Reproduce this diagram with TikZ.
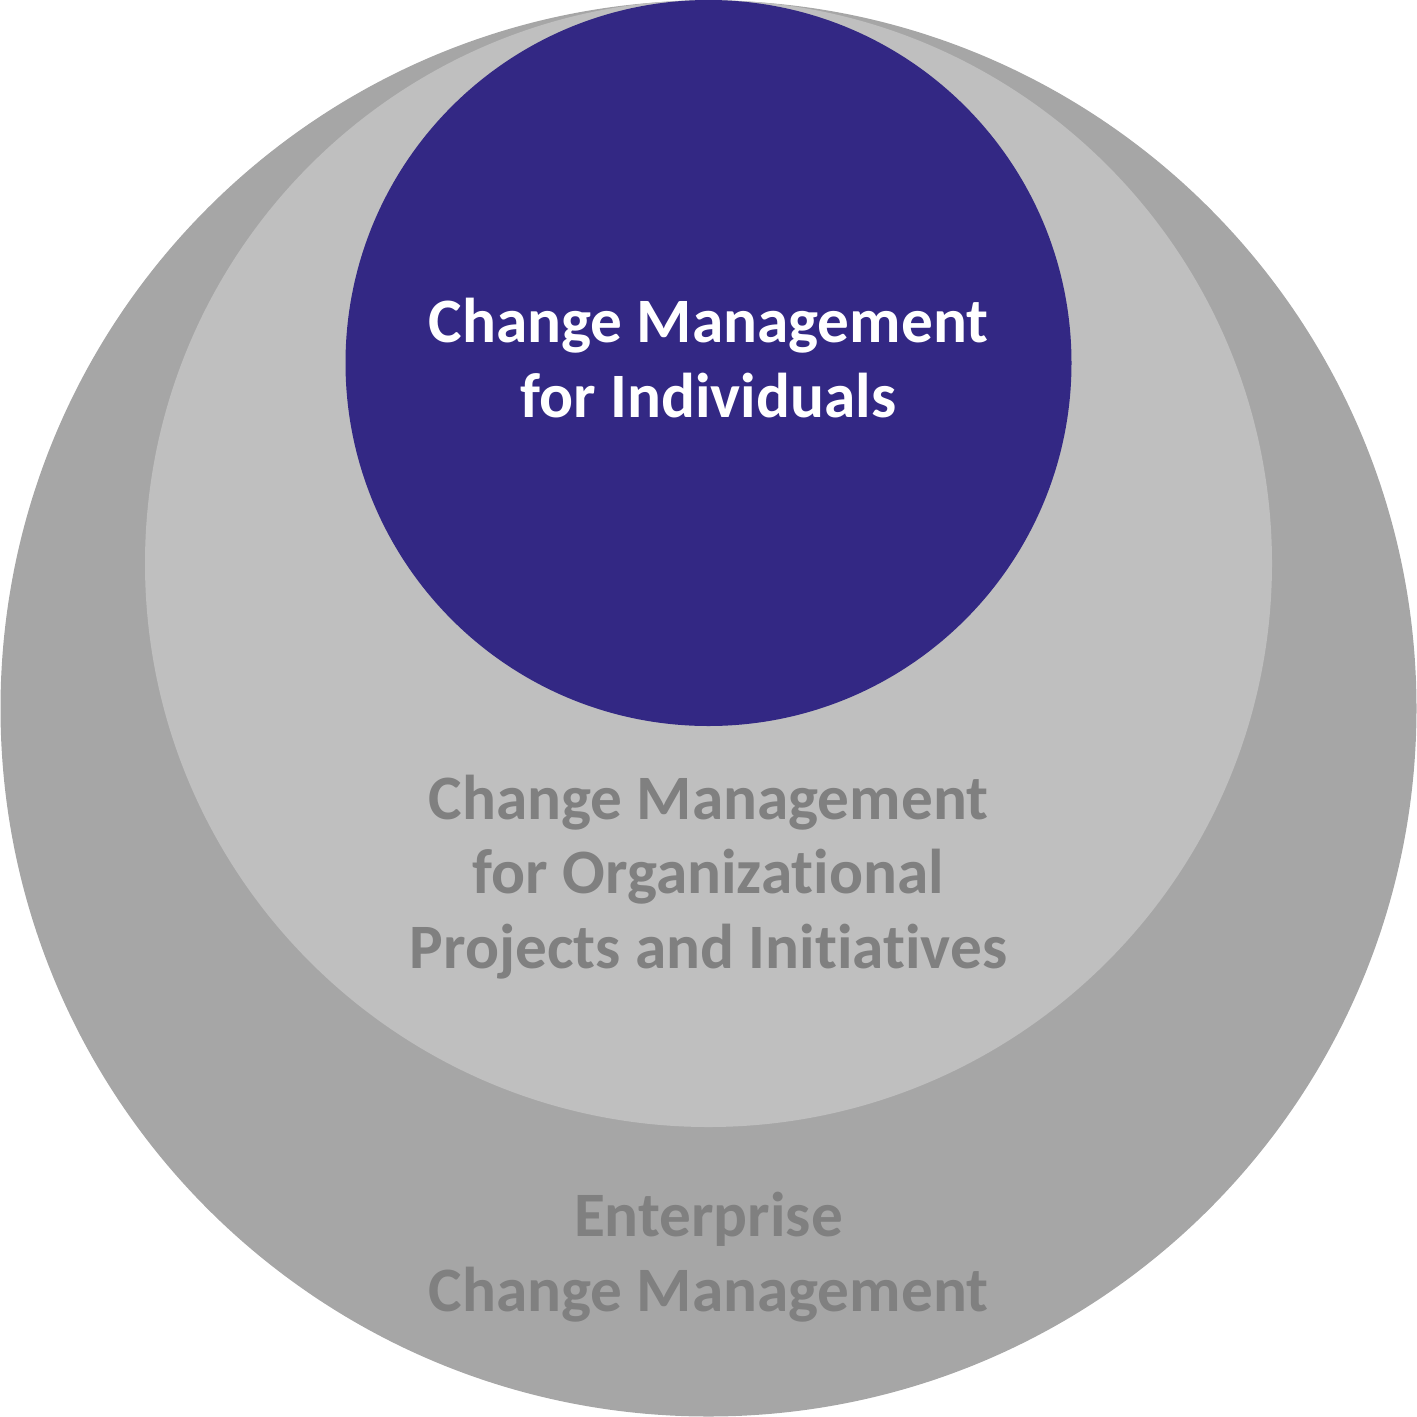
\documentclass[tikz,border=0pt]{standalone}
\usepackage{fontspec}
\setmainfont[Ligatures=NoCommon]{Carlito}
\definecolor{outergray}{HTML}{A6A6A6}
\definecolor{middlegray}{HTML}{BFBFBF}
\definecolor{innerblue}{HTML}{332884}
\definecolor{labelgray}{HTML}{808080}
\begin{document}
\begin{tikzpicture}[
    ring/.style={circle, inner sep=0pt, draw=none},
    ringlabel/.style={align=center, font=\fontsize{18}{21.3}\selectfont\bfseries}
  ]
  \useasboundingbox (0,0) rectangle (14.17,-14.17);
  % nested circles, all touching at the top
  \node[ring, fill=outergray, minimum size=14.16cm] (enterprise) at (7.085,-7.085) {};
  \node[ring, fill=middlegray, minimum size=11.27cm] (organization) at (7.085,-5.635) {};
  \node[ring, fill=innerblue, minimum size=7.26cm] (individual) at (7.085,-3.63) {};
  % labels
  \node[ringlabel, text=white] (individuallabel) at (7.085,-3.58) {Change Management\\for Individuals};
  \node[ringlabel, text=labelgray] (organizationlabel) at (7.085,-8.77) {Change Management\\for Organizational\\Projects and Initiatives};
  \node[ringlabel, text=labelgray] (enterpriselabel) at (7.085,-12.57) {Enterprise\\Change Management};
\end{tikzpicture}
\end{document}
